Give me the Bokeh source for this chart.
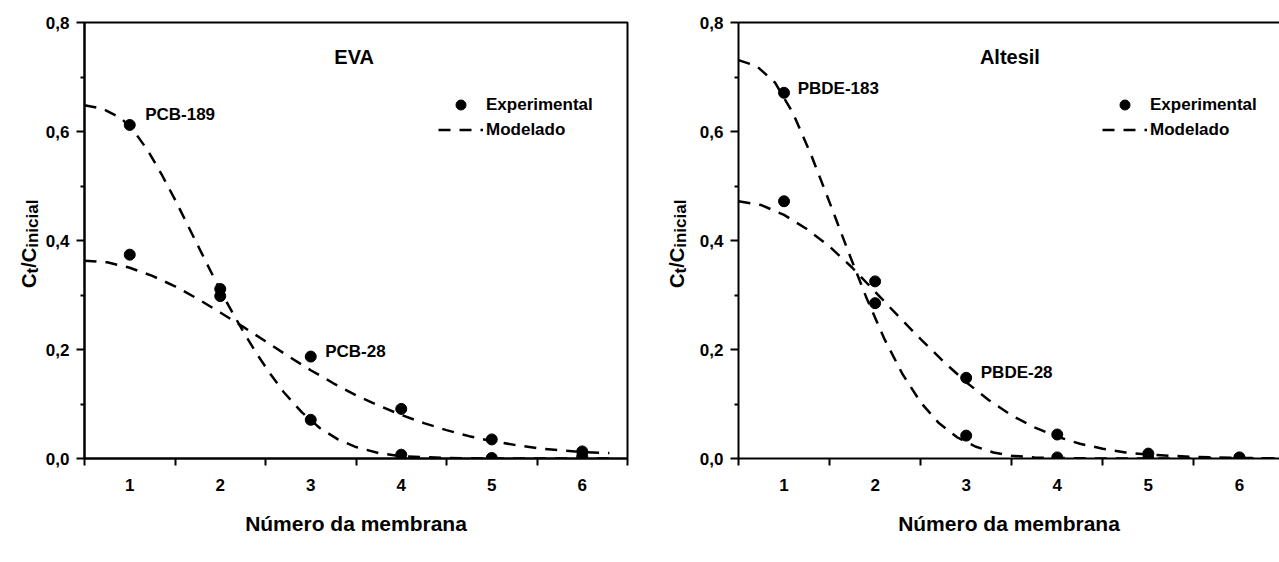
import math
from bokeh.plotting import figure
from bokeh.layouts import row
from bokeh.models import (FixedTicker, CustomJSTickFormatter, Label, Legend,
                          LegendItem, LinearAxis, Range1d)
from bokeh.core.properties import value
from bokeh.embed import file_html
from bokeh.resources import INLINE

FONT = "Liberation Sans"
INK = "black"

# ---------------- data ----------------
membranas = [1, 2, 3, 4, 5, 6]
x_tick_labels = ["1", "2", "3", "4", "5", "6"]
y_ticks = [0.0, 0.2, 0.4, 0.6, 0.8]

# EVA panel
eva_title = "EVA"
pcb189_exp = [0.612, 0.298, 0.071, 0.007, 0.001, 0.004]
pcb28_exp = [0.374, 0.311, 0.187, 0.091, 0.035, 0.013]
pcb189_mod_x = [0.5, 0.7, 0.9, 1.05, 1.2, 1.35, 1.5, 1.65, 1.8, 1.95, 2.1, 2.25, 2.4, 2.55,
                2.7, 2.9, 3.1, 3.3, 3.5, 3.75, 4.0, 4.5, 5.0, 5.5, 6.0, 6.3]
pcb189_mod_y = [0.648, 0.642, 0.625, 0.600, 0.565, 0.522, 0.475, 0.425, 0.375, 0.325,
                0.278, 0.234, 0.193, 0.156, 0.122, 0.085, 0.056, 0.035, 0.021, 0.010,
                0.004, 0.001, 0.0, 0.0, 0.0, 0.0]
pcb28_mod_x = [0.5, 0.75, 1.0, 1.25, 1.5, 1.75, 2.0, 2.25, 2.5, 2.75, 3.0, 3.25, 3.5,
               3.75, 4.0, 4.25, 4.5, 4.75, 5.0, 5.25, 5.5, 5.75, 6.0, 6.3]
pcb28_mod_y = [0.363, 0.360, 0.350, 0.335, 0.316, 0.293, 0.268, 0.242, 0.215, 0.188,
               0.162, 0.138, 0.116, 0.097, 0.080, 0.065, 0.052, 0.041, 0.032, 0.025,
               0.019, 0.015, 0.012, 0.010]

# Altesil panel
alt_title = "Altesil"
pbde183_exp = [0.671, 0.285, 0.042, 0.002, 0.0, 0.001]
pbde28_exp = [0.472, 0.325, 0.148, 0.044, 0.009, 0.002]
pbde183_mod_x = [0.5, 0.7, 0.9, 1.1, 1.3, 1.5, 1.7, 1.9, 2.1, 2.3, 2.5, 2.7, 2.9, 3.1,
                 3.3, 3.5, 3.75, 4.0, 4.5, 5.0, 6.0, 6.5]
pbde183_mod_y = [0.731, 0.720, 0.690, 0.633, 0.556, 0.470, 0.382, 0.297, 0.220, 0.155,
                 0.103, 0.065, 0.039, 0.022, 0.011, 0.005, 0.002, 0.001, 0.0, 0.0, 0.0, 0.0]
pbde28_mod_x = [0.5, 0.75, 1.0, 1.25, 1.5, 1.75, 2.0, 2.25, 2.5, 2.75, 3.0, 3.25, 3.5,
                3.75, 4.0, 4.25, 4.5, 4.75, 5.0, 5.5, 6.0, 6.5]
pbde28_mod_y = [0.472, 0.465, 0.447, 0.421, 0.389, 0.350, 0.306, 0.262, 0.219, 0.178,
                0.140, 0.107, 0.079, 0.057, 0.040, 0.027, 0.018, 0.011, 0.007, 0.003,
                0.001, 0.0]

legend_labels = ["Experimental", "Modelado"]
x_title = "Número da membrana"
y_title_parts = [("C", False), ("t", True), ("/C", False), ("inicial", True)]

H = 562
TOP, BOTTOM = 22, 104
FRAME_H = H - TOP - BOTTOM


def make_panel(width, border_left, border_right, x_end, title, exp_a, exp_b,
               mod_a, mod_b, lab_a, lab_b, legend_x, full_box):
    p = figure(width=width, height=H, output_backend="svg", toolbar_location=None,
               x_range=Range1d(0.5, x_end), y_range=Range1d(0.0, 0.8),
               min_border_left=border_left, min_border_right=border_right,
               min_border_top=TOP, min_border_bottom=BOTTOM)
    p.grid.visible = False
    p.background_fill_color = "white"
    p.border_fill_color = "white"

    # x axis (below)
    xa = p.below[0]
    xa.ticker = FixedTicker(ticks=membranas,
                            minor_ticks=[m - 0.5 for m in membranas] + [6.5])
    xa.major_label_overrides = {m: t for m, t in zip(membranas, x_tick_labels)}
    xa.axis_line_width = 2
    xa.axis_line_color = INK
    xa.major_tick_in = 0
    xa.major_tick_out = 0
    xa.minor_tick_in = 0
    xa.minor_tick_out = 7
    xa.minor_tick_line_width = 2
    xa.minor_tick_line_color = INK
    xa.major_label_text_font = FONT
    xa.major_label_text_font_style = "bold"
    xa.major_label_text_font_size = "17px"
    xa.major_label_text_color = INK
    xa.major_label_standoff = 13
    xa.axis_label = x_title
    xa.axis_label_text_font = FONT
    xa.axis_label_text_font_style = "bold"
    xa.axis_label_text_font_size = "21px"
    xa.axis_label_text_color = INK
    xa.axis_label_standoff = 18

    # y axis (left)
    ya = p.left[0]
    ya.ticker = FixedTicker(ticks=y_ticks, minor_ticks=[0.1, 0.3, 0.5, 0.7])
    ya.formatter = CustomJSTickFormatter(code="return tick.toFixed(1).replace('.', ',');")
    ya.axis_line_width = 2
    ya.axis_line_color = INK
    ya.major_tick_in = 0
    ya.major_tick_out = 8
    ya.major_tick_line_width = 2
    ya.major_tick_line_color = INK
    ya.minor_tick_in = 0
    ya.minor_tick_out = 4
    ya.minor_tick_line_width = 2
    ya.minor_tick_line_color = INK
    ya.major_label_text_font = FONT
    ya.major_label_text_font_style = "bold"
    ya.major_label_text_font_size = "17px"
    ya.major_label_text_color = INK
    ya.major_label_standoff = 7

    if full_box:
        p.outline_line_color = INK
        p.outline_line_width = 2
        p.outline_line_alpha = 1
    else:
        p.outline_line_color = None
        top = LinearAxis(ticker=FixedTicker(ticks=[], minor_ticks=[]),
                         axis_line_width=2, axis_line_color=INK,
                         major_tick_line_color=None,
                         minor_tick_line_color=None, major_label_text_alpha=0)
        p.add_layout(top, "above")

    ma = p.line(mod_a[0], mod_a[1], line_color=INK, line_width=2.5, line_dash="12 9")
    p.line(mod_b[0], mod_b[1], line_color=INK, line_width=2.5, line_dash="12 9")
    sa = p.scatter(membranas, exp_a, size=11, marker="circle", color=INK)
    p.scatter(membranas, exp_b, size=11, marker="circle", color=INK)

    legend = Legend(items=[LegendItem(label=legend_labels[0], renderers=[sa]),
                           LegendItem(label=legend_labels[1], renderers=[ma])],
                    location=(legend_x, 316), glyph_width=45, glyph_height=25,
                    label_height=25, spacing=0, padding=0, margin=0, label_standoff=3,
                    border_line_color=None, background_fill_alpha=0,
                    label_text_font=FONT, label_text_font_style="bold",
                    label_text_font_size="17px", label_text_color=INK)
    p.add_layout(legend, "center")

    p.add_layout(Label(x=3.48, y=0.736, text=title, text_align="center",
                       text_baseline="middle", text_font=FONT, text_font_style="bold",
                       text_font_size="20px", text_color=INK))
    for (lx, ly, txt) in (lab_a, lab_b):
        p.add_layout(Label(x=lx, y=ly, text=txt, text_align="left", text_baseline="middle",
                           text_font=FONT, text_font_style="bold", text_font_size="17px",
                           text_color=INK))
    return p


def make_ytitle(width, baseline_x):
    # same vertical layout as the panels, so y is in the panels' data units
    t = figure(width=width, height=H, output_backend="svg", toolbar_location=None,
               x_range=Range1d(0, width), y_range=Range1d(0.0, 0.8),
               x_axis_type=None, y_axis_type=None,
               min_border_left=0, min_border_right=0,
               min_border_top=TOP, min_border_bottom=BOTTOM)
    t.grid.visible = False
    t.outline_line_color = None
    main, sub = 20, 17
    px = 0.8 / FRAME_H  # data units per pixel
    adv = {"C": 0.722 * main, "t": 0.333 * sub, "/C": (0.278 + 0.722) * main,
           "inicial": 2.835 * sub}
    total = sum(adv[s] for s, _ in y_title_parts) * px
    ypos = 0.394 - total / 2
    for txt, is_sub in y_title_parts:
        t.text(x=[baseline_x + (4 if is_sub else 0)], y=[ypos], text=[txt],
               angle=math.pi / 2, text_align="left", text_baseline="alphabetic",
               text_font=value(FONT), text_font_style="bold",
               text_font_size=value(f"{sub if is_sub else main}px"), text_color=INK)
        ypos += adv[txt] * px
    return t


fa = make_ytitle(42, 28)
p1 = make_panel(598, 42, 13, 6.5, eva_title, pcb189_exp, pcb28_exp,
                (pcb189_mod_x, pcb189_mod_y), (pcb28_mod_x, pcb28_mod_y),
                (1.17, 0.632, "PCB-189"), (3.16, 0.196, "PCB-28"),
                354, True)
fb = make_ytitle(56, 36)
p2 = make_panel(583, 42, 0, 6.44, alt_title, pbde183_exp, pbde28_exp,
                (pbde183_mod_x, pbde183_mod_y), (pbde28_mod_x, pbde28_mod_y),
                (1.15, 0.679, "PBDE-183"), (3.16, 0.157, "PBDE-28"),
                364, False)

layout = row(fa, p1, fb, p2)
open("out.html", "w").write(file_html(layout, INLINE))
